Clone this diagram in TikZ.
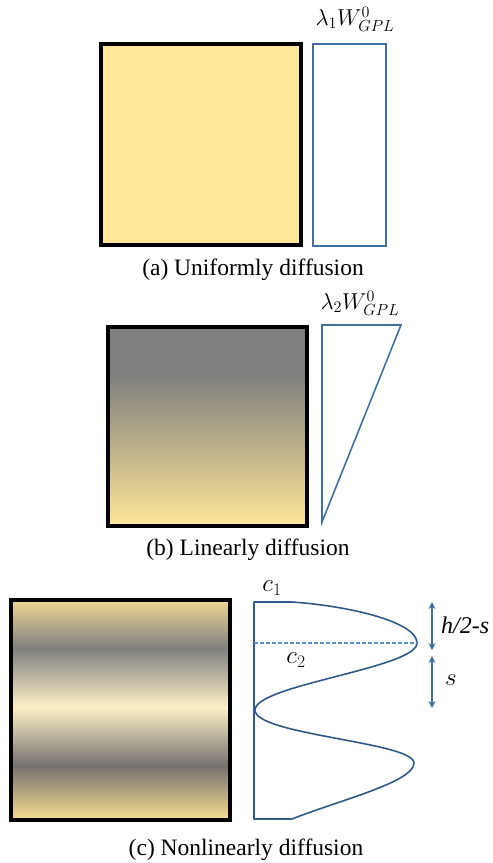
\RequirePackage{fix-cm}
\documentclass[tikz,border=0pt]{standalone}
\usepackage{fontspec}
\setmainfont{Liberation Serif}
\usetikzlibrary{arrows.meta}
\definecolor{gold}{HTML}{FFE699}
\definecolor{midgray}{HTML}{7F7F7F}
\definecolor{cgoldtop}{HTML}{EED795}
\definecolor{cgoldbot}{HTML}{F8DE90}
\definecolor{cgray}{HTML}{7F7F7F}
\definecolor{ccream}{HTML}{FCF0C6}
\definecolor{cdark}{HTML}{75716F}
\definecolor{lineblue}{HTML}{41719C}
\definecolor{curveblue}{HTML}{2F5A8A}
\definecolor{dashblue}{HTML}{4F8FD0}
\pgfdeclareverticalshading{linshade}{100bp}{color(0bp)=(gold); color(25bp)=(gold); color(63bp)=(midgray); color(100bp)=(midgray)}
\pgfdeclareverticalshading{nonlinshade}{100bp}{color(0bp)=(cgoldbot); color(25bp)=(cgoldbot); color(37.3bp)=(cdark); color(50.7bp)=(ccream); color(64bp)=(cgray); color(75bp)=(cgoldtop); color(100bp)=(cgoldtop)}
\tikzset{
  plate/.style={draw=black, line width=4pt},
  profile/.style={draw=lineblue, line width=1.6pt},
  caption/.style={font=\fontsize{23.5}{26}\selectfont, inner sep=0pt, anchor=base},
  mlabel/.style={font=\fontsize{23}{26}\selectfont, inner sep=0pt},
  clabel/.style={font=\fontsize{25}{28}\selectfont, inner sep=0pt},
  dimarrow/.style={lineblue, line width=1.4pt, {Stealth[length=7pt,width=7pt]}-{Stealth[length=7pt,width=7pt]}}
}
\begin{document}
\begin{tikzpicture}[x=1pt,y=-1pt]
\useasboundingbox (0,0) rectangle (493,863);
% (a)
\draw[plate, fill=gold] (101,44) rectangle (301,245);
\draw[profile] (313,44) rectangle (386,246);
\node[mlabel] (la) at (355,19) {$\lambda_1 W^0_{GPL}$};
\node[caption] (capa) at (253,275) {(a) Uniformly diffusion};
% (b)
\draw[plate, shading=linshade] (108,327) rectangle (307,526);
\coordinate (t1) at (322,325);
\coordinate (t2) at (401,325);
\coordinate (t3) at (322,522);
\draw[profile, line join=miter] (t1) -- (t2) -- (t3) -- cycle;
\node[mlabel] (lb) at (360,303) {$\lambda_2 W^0_{GPL}$};
\node[caption] (capb) at (248,555) {(b) Linearly diffusion};
% (c)
\draw[plate, shading=nonlinshade] (11,600) rectangle (230,820);
\coordinate (p0) at (292,602);
\coordinate (p1) at (417,643);
\coordinate (p2) at (255,710);
\coordinate (p3) at (414,763);
\coordinate (p4) at (292,819);
\draw[curveblue, line width=1.6pt, line join=round]
  (p0) -- (254,602) -- (254,819) -- (p4)
  .. controls (340,800) and (414,782) .. (p3)
  .. controls (414,742) and (255,735) .. (p2)
  .. controls (255,685) and (417,668) .. (p1)
  .. controls (417,622) and (350,606) .. (p0);
\coordinate (d0) at (254,643);
\draw[dashblue, dash pattern=on 4pt off 2pt, line width=1.1pt] (d0) -- (p1);
\node[clabel] (c1) at (272,588) {$c_1$};
\node[clabel] (c2) at (296,660) {$c_2$};
\coordinate (a1) at (432,602);
\coordinate (a2) at (432,650);
\coordinate (a3) at (432,656);
\coordinate (a4) at (432,708);
\draw[dimarrow] (a1) -- (a2);
\draw[dimarrow] (a3) -- (a4);
\node[font=\fontsize{24}{26}\selectfont, inner sep=0pt, anchor=base west] (hs) at (441,633) {\textit{h/2-s}};
\node[clabel] (sl) at (451,680) {$s$};
\node[caption] (capc) at (246,855) {(c) Nonlinearly diffusion};
\end{tikzpicture}
\end{document}
